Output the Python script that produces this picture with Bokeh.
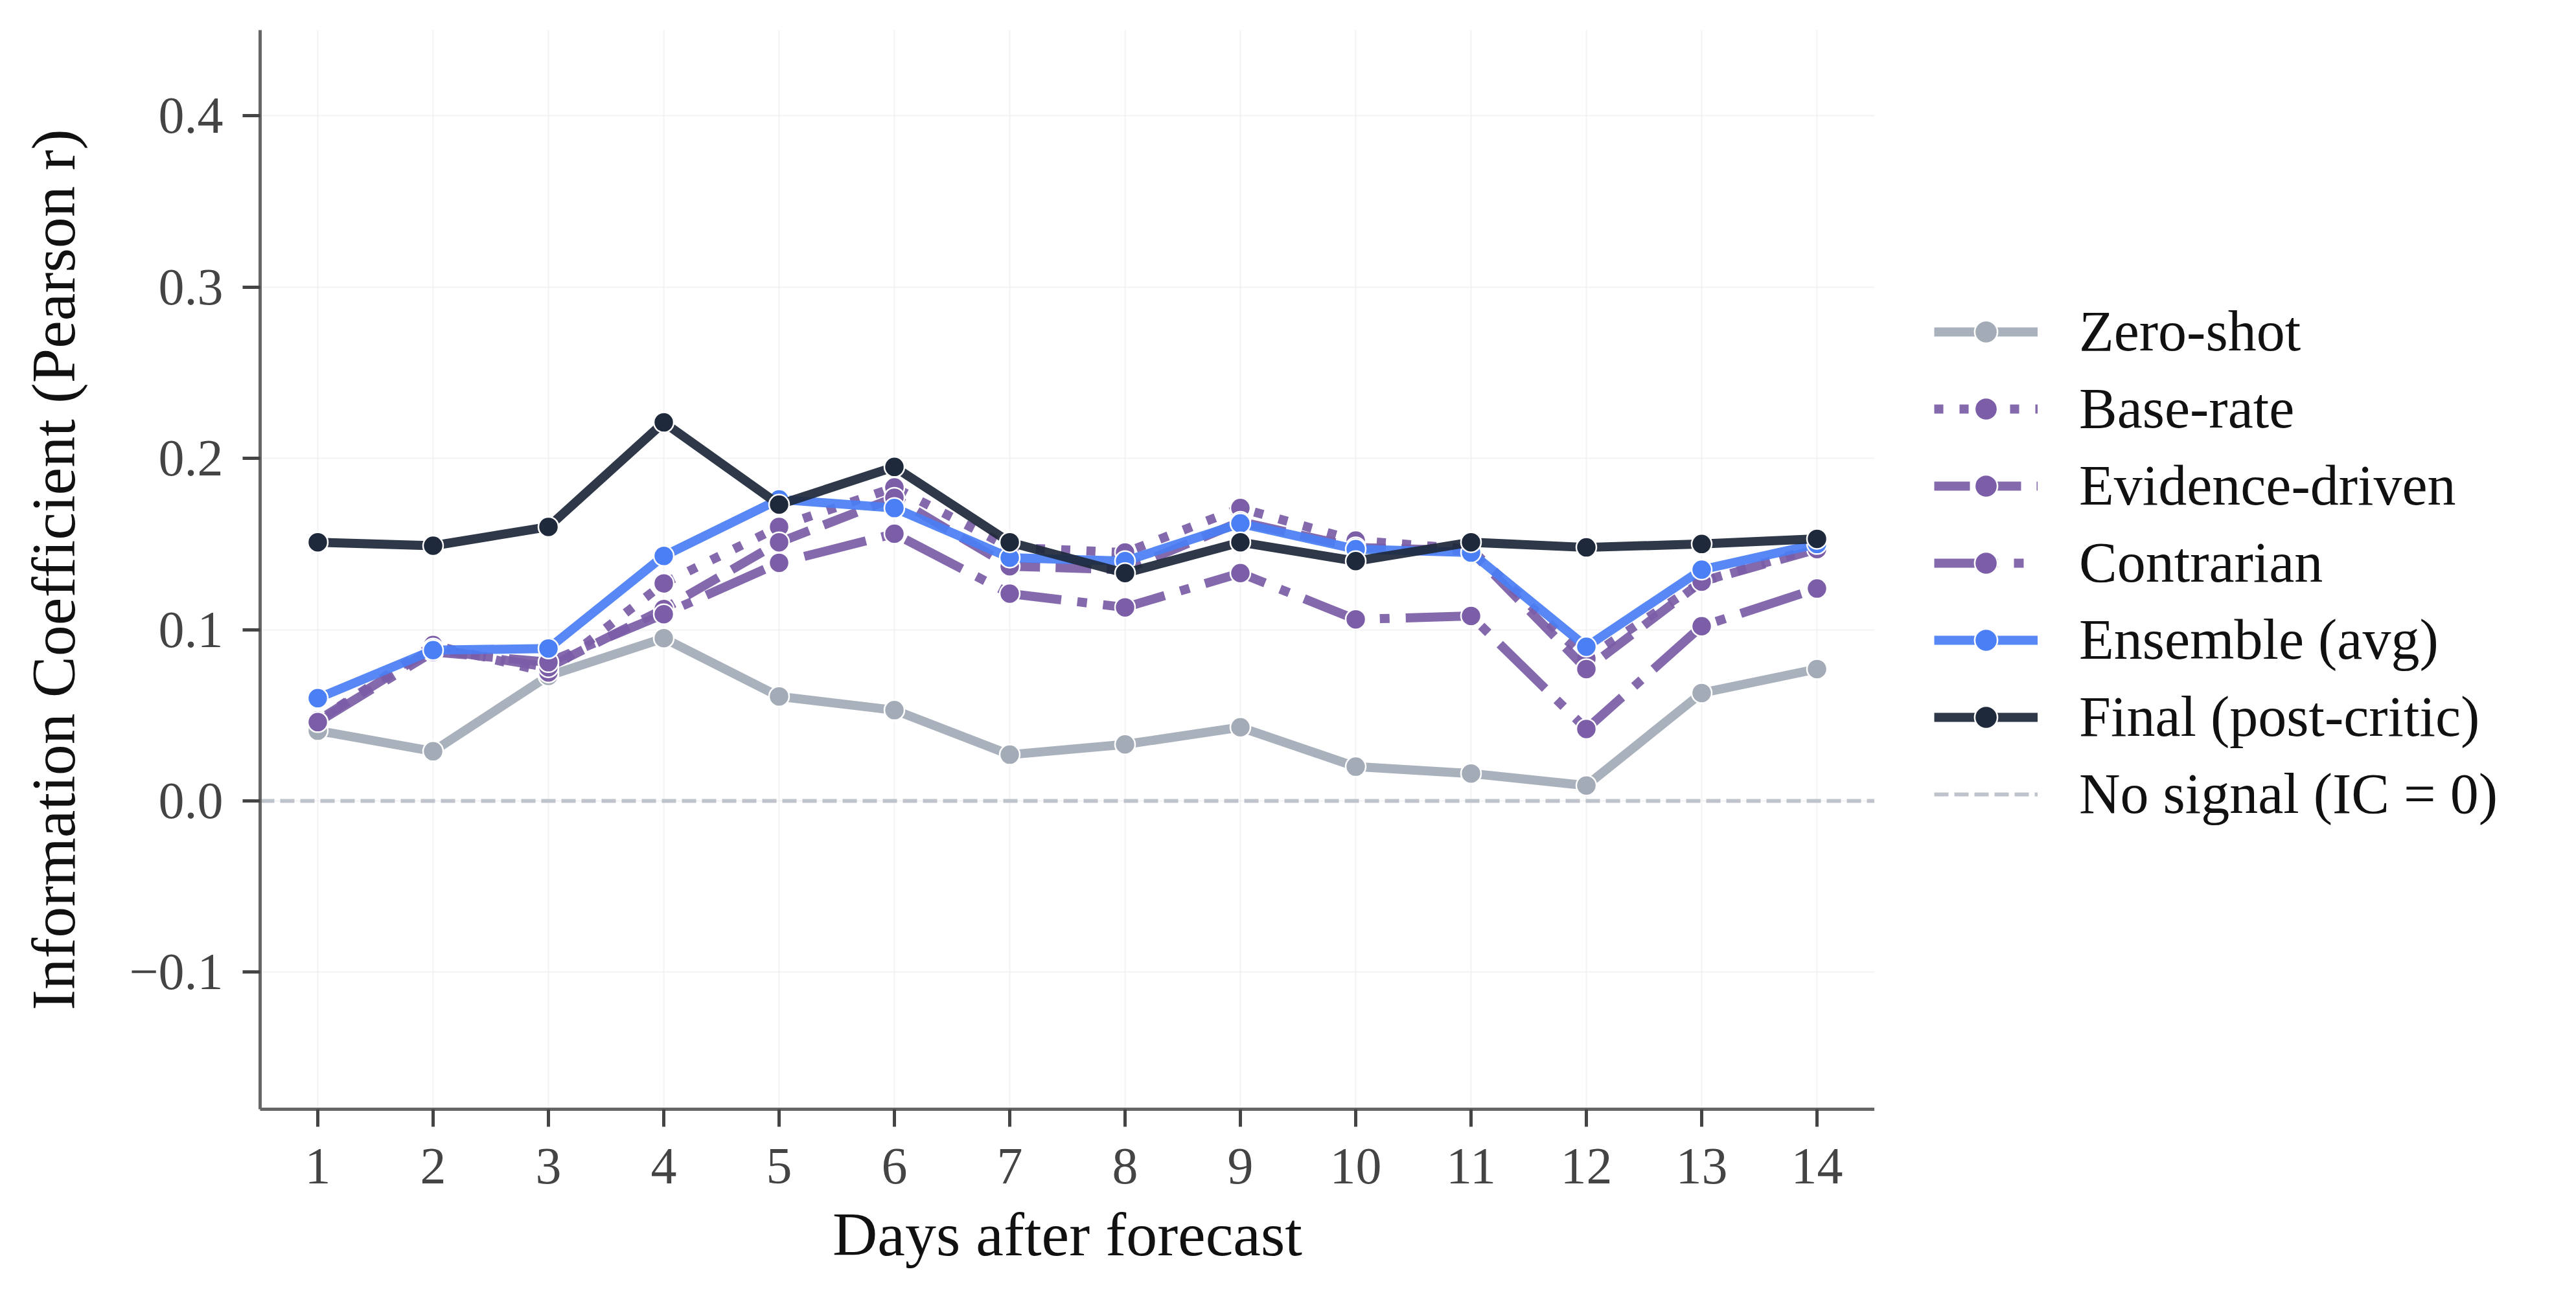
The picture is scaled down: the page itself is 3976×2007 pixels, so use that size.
from bokeh.plotting import figure
from bokeh.layouts import row
from bokeh.models import Legend, LegendItem, FixedTicker, Range1d
from bokeh.embed import file_html
from bokeh.resources import INLINE

# ---- data ----
days = [1, 2, 3, 4, 5, 6, 7, 8, 9, 10, 11, 12, 13, 14]
zero_shot = [0.041, 0.029, 0.073, 0.095, 0.061, 0.053, 0.027, 0.033, 0.043, 0.020, 0.016, 0.009, 0.063, 0.077]
base_rate = [0.047, 0.091, 0.075, 0.127, 0.160, 0.183, 0.148, 0.145, 0.171, 0.152, 0.147, 0.083, 0.128, 0.148]
evidence = [0.047, 0.089, 0.078, 0.112, 0.151, 0.177, 0.137, 0.135, 0.163, 0.148, 0.146, 0.077, 0.128, 0.147]
contrarian = [0.046, 0.087, 0.081, 0.109, 0.139, 0.156, 0.121, 0.113, 0.133, 0.106, 0.108, 0.042, 0.102, 0.124]
ensemble = [0.060, 0.088, 0.089, 0.143, 0.176, 0.171, 0.142, 0.140, 0.162, 0.147, 0.145, 0.090, 0.135, 0.150]
final = [0.151, 0.149, 0.160, 0.221, 0.173, 0.195, 0.151, 0.133, 0.151, 0.140, 0.151, 0.148, 0.150, 0.153]
zero_level = [0.0]

series_names = ["Zero-shot", "Base-rate", "Evidence-driven", "Contrarian", "Ensemble (avg)", "Final (post-critic)"]
zero_label = "No signal (IC = 0)"
y_ticks = [-0.1, 0.0, 0.1, 0.2, 0.3, 0.4]
y_tick_labels = ["\u22120.1", "0.0", "0.1", "0.2", "0.3", "0.4"]
x_label = "Days after forecast"
y_label = "Information Coefficient (Pearson r)"

FONT = "Liberation Serif"
colors = ["#a3abb7", "#7b5ea7", "#7b5ea7", "#7b5ea7", "#4a7ff5", "#1e293b"]
dashes = ["solid", "14 25", "55 24", "98 25 15 25", "solid", "solid"]
values = [zero_shot, base_rate, evidence, contrarian, ensemble, final]
ZERO_STYLE = dict(line_color="#bfc4cc", line_width=6, line_dash="22 9")

# ---------------- main chart ----------------
p = figure(width=2893, height=2007, x_range=(0.5, 14.5), y_range=(-0.18, 0.45),
           output_backend="svg", toolbar_location=None,
           min_border_left=401, min_border_right=0, min_border_top=46, min_border_bottom=295)
p.outline_line_color = None
p.background_fill_color = "white"
p.border_fill_color = "white"

for g in (p.xgrid, p.ygrid):
    g.grid_line_color = "#eeeeee"
    g.grid_line_alpha = 0.7
    g.grid_line_width = 2
p.xgrid.ticker = FixedTicker(ticks=days)
p.ygrid.ticker = FixedTicker(ticks=y_ticks)

p.xaxis.ticker = FixedTicker(ticks=days)
p.yaxis.ticker = FixedTicker(ticks=y_ticks)
p.yaxis.major_label_overrides = {t: l for t, l in zip(y_ticks, y_tick_labels)}
for ax in (p.xaxis, p.yaxis):
    ax.axis_line_color = "#666666"
    ax.axis_line_width = 5
    ax.major_tick_line_color = "#444444"
    ax.major_tick_line_width = 5
    ax.major_tick_out = 27
    ax.major_tick_in = 0
    ax.minor_tick_line_color = None
    ax.major_label_text_font = FONT
    ax.major_label_text_font_size = "80px"
    ax.major_label_text_color = "#444444"
    ax.axis_label_text_font = FONT
    ax.axis_label_text_font_size = "96px"
    ax.axis_label_text_font_style = "normal"
    ax.axis_label_text_color = "#111111"
p.xaxis.axis_label = x_label
p.yaxis.axis_label = y_label
p.xaxis.major_label_standoff = 34
p.xaxis.axis_label_standoff = 22
p.yaxis.major_label_standoff = 30
p.yaxis.axis_label_standoff = 60

p.hspan(y=zero_level, **ZERO_STYLE)
for vals, col, dash in zip(values, colors, dashes):
    p.line(days, vals, line_color=col, line_width=14, line_dash=dash, line_alpha=0.93)
    p.scatter(days, vals, size=31, marker="circle", fill_color=col, line_color="white", line_width=2.5)

# ---------------- legend panel (separate canvas to the right) ----------------
# its ranges lie far from the data, so only the legend is visible here
q = figure(width=1083, height=2007, x_range=Range1d(1000, 1001), y_range=Range1d(1000, 1001),
           output_backend="svg", toolbar_location=None,
           min_border_left=0, min_border_right=0, min_border_top=0, min_border_bottom=0)
q.axis.visible = False
q.grid.visible = False
q.outline_line_color = None
q.background_fill_color = "white"
q.border_fill_color = "white"

items = []
for name, vals, col, dash in zip(series_names, values, colors, dashes):
    lr = q.line(days, vals, line_color=col, line_width=14, line_dash=dash, line_alpha=0.93)
    sr = q.scatter(days, vals, size=31, marker="circle", fill_color=col, line_color="white", line_width=2.5)
    items.append(LegendItem(label=name, renderers=[lr, sr]))
zr = q.hspan(y=zero_level, **ZERO_STYLE)
items.append(LegendItem(label=zero_label, renderers=[zr]))

legend = Legend(items=items, location=(92, 436))
legend.glyph_width = 160
legend.glyph_height = 88
legend.label_height = 88
legend.label_standoff = 64
legend.spacing = 18
legend.padding = 20
legend.margin = 0
legend.border_line_color = None
legend.background_fill_alpha = 0
legend.label_text_font = FONT
legend.label_text_font_size = "88px"
legend.label_text_color = "#111111"
q.add_layout(legend, "center")

layout = row(p, q, spacing=0)
open("out.html", "w").write(file_html(layout, INLINE))
